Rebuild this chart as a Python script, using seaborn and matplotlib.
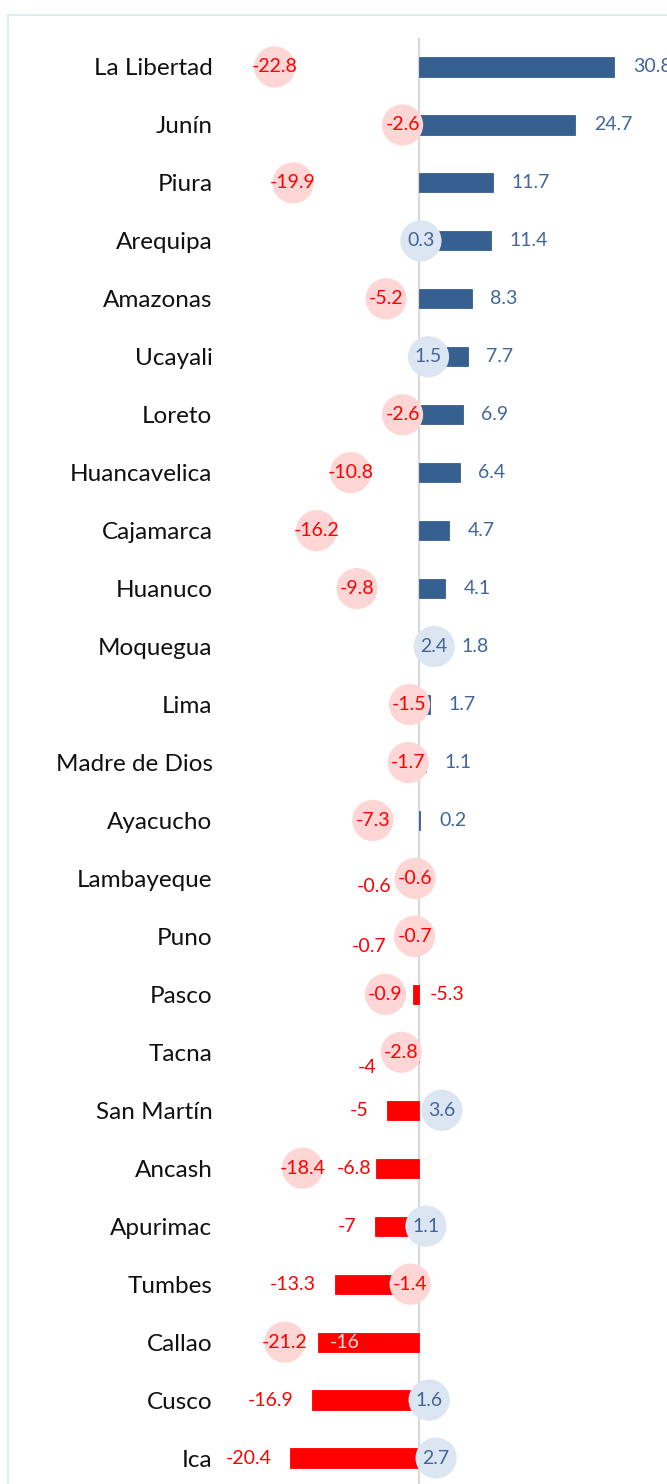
import numpy as np
import pandas as pd
import matplotlib.pyplot as plt
from matplotlib.patches import Rectangle
import seaborn as sns

sns.set_style("white")
plt.rcParams['font.family'] = ['Lato', 'DejaVu Sans']

# --- data ---
regions = ['La Libertad', 'Junín', 'Piura', 'Arequipa', 'Amazonas', 'Ucayali',
           'Loreto', 'Huancavelica', 'Cajamarca', 'Huanuco', 'Moquegua', 'Lima',
           'Madre de Dios', 'Ayacucho', 'Lambayeque', 'Puno', 'Pasco', 'Tacna',
           'San Martín', 'Ancash', 'Apurimac', 'Tumbes', 'Callao', 'Cusco', 'Ica']

bar_values = [30.8, 24.7, 11.7, 11.4, 8.3, 7.7, 6.9, 6.4, 4.7, 4.1, 1.8, 1.7,
              1.1, 0.2, -0.6, -0.7, -0.9, -4, -5, -6.8, -7, -13.3, -16, -16.9, -20.4]
# labels as printed next to the bars (Pasco's labels are swapped in the source)
bar_labels = ['30.8', '24.7', '11.7', '11.4', '8.3', '7.7', '6.9', '6.4', '4.7',
              '4.1', '1.8', '1.7', '1.1', '0.2', '-0.6', '-0.7', '-5.3', '-4',
              '-5', '-6.8', '-7', '-13.3', '-16', '-16.9', '-20.4']

bubble_values = [-22.8, -2.6, -19.9, 0.3, -5.2, 1.5, -2.6, -10.8, -16.2, -9.8,
                 2.4, -1.5, -1.7, -7.3, -0.6, -0.7, -5.3, -2.8, 3.6, -18.4,
                 1.1, -1.4, -21.2, 1.6, 2.7]
bubble_labels = ['-22.8', '-2.6', '-19.9', '0.3', '-5.2', '1.5', '-2.6', '-10.8',
                 '-16.2', '-9.8', '2.4', '-1.5', '-1.7', '-7.3', '-0.6', '-0.7',
                 '-0.9', '-2.8', '3.6', '-18.4', '1.1', '-1.4', '-21.2', '1.6', '2.7']

# --- styling ---
blue = '#36608F'
blue_txt = '#41669A'
red = '#FF0000'
light_red = '#FFD6D6'
light_blue = '#DCE6F2'
fs_val = 14

df = pd.DataFrame({'region': regions, 'bar': bar_values, 'bubble': bubble_values})
df['pos'] = np.arange(len(df))
df['bar_sign'] = np.where(df['bar'] >= 0, 'pos', 'neg')
df['bub_sign'] = np.where(df['bubble'] >= 0, 'pos', 'neg')

fig = plt.figure(figsize=(6.67, 14.84), dpi=100)
ax = fig.add_axes([225 / 667, -3 / 1484, 442 / 667, 1449 / 1484])

sns.barplot(data=df, x='bar', y='region', hue='bar_sign', orient='h',
            palette={'pos': blue, 'neg': red}, dodge=False, width=0.33,
            saturation=1, legend=False, ax=ax, zorder=2)
for p in ax.patches:
    p.set_edgecolor(p.get_facecolor())
    p.set_linewidth(0.6)

sns.scatterplot(data=df, x='bubble', y='pos', hue='bub_sign',
                palette={'pos': light_blue, 'neg': light_red}, s=880,
                edgecolor='none', legend=False, ax=ax, zorder=3)

ax.axvline(0, color='#D9D9D9', lw=1.6, zorder=1)

ax.set_xlim(-30.65, 39.18)
ax.set_ylim(len(df) - 0.5, -0.5)
ax.set_xlabel('')
ax.set_ylabel('')
ax.set_xticks([])
ax.set_yticks(df['pos'])
ax.set_yticklabels(regions, fontsize=17.5, color='#111111')
ax.tick_params(axis='y', length=0, pad=9)
for s in ax.spines.values():
    s.set_visible(False)

# label tweaks (Excel-style manual placement), offsets in points
nudge = {'Moquegua': (9, 0), 'Ancash': (10, 0), 'Lambayeque': (-4, -6),
         'Puno': (-7, -7), 'Tacna': (1, -11)}

gap = 13.5
for i, row in df.iterrows():
    name = row['region']
    v = row['bar']
    txt = bar_labels[i]
    dx, dy = nudge.get(name, (0, 0))
    col = blue_txt if v >= 0 else red
    if name == 'Pasco':
        ax.annotate(txt, (0, i), xytext=(8, 0), textcoords='offset points',
                    ha='left', va='center', fontsize=fs_val, color=red, zorder=5)
        continue
    if name == 'Callao':
        ax.annotate(txt, (v, i), xytext=(9, 0), textcoords='offset points',
                    ha='left', va='center', fontsize=fs_val, color='#FFE3E3', zorder=5)
        continue
    if v >= 0:
        ax.annotate(txt, (v, i), xytext=(gap + dx, dy), textcoords='offset points',
                    ha='left', va='center', fontsize=fs_val, color=col, zorder=5)
    else:
        ax.annotate(txt, (v, i), xytext=(-gap + dx, dy), textcoords='offset points',
                    ha='right', va='center', fontsize=fs_val, color=col, zorder=5)

for i, row in df.iterrows():
    col = blue_txt if row['bubble'] >= 0 else red
    ax.text(row['bubble'], i, bubble_labels[i], ha='center', va='center',
            fontsize=fs_val, color=col, zorder=6)

# light frame around the chart area (cropped at right and bottom)
fig.patches.append(Rectangle((8 / 667, -0.05), 1.2, 1.05 - 15 / 1484,
                             transform=fig.transFigure, fill=False,
                             edgecolor='#DDECEE', lw=1.5))

fig.savefig('out.png', dpi=100)
